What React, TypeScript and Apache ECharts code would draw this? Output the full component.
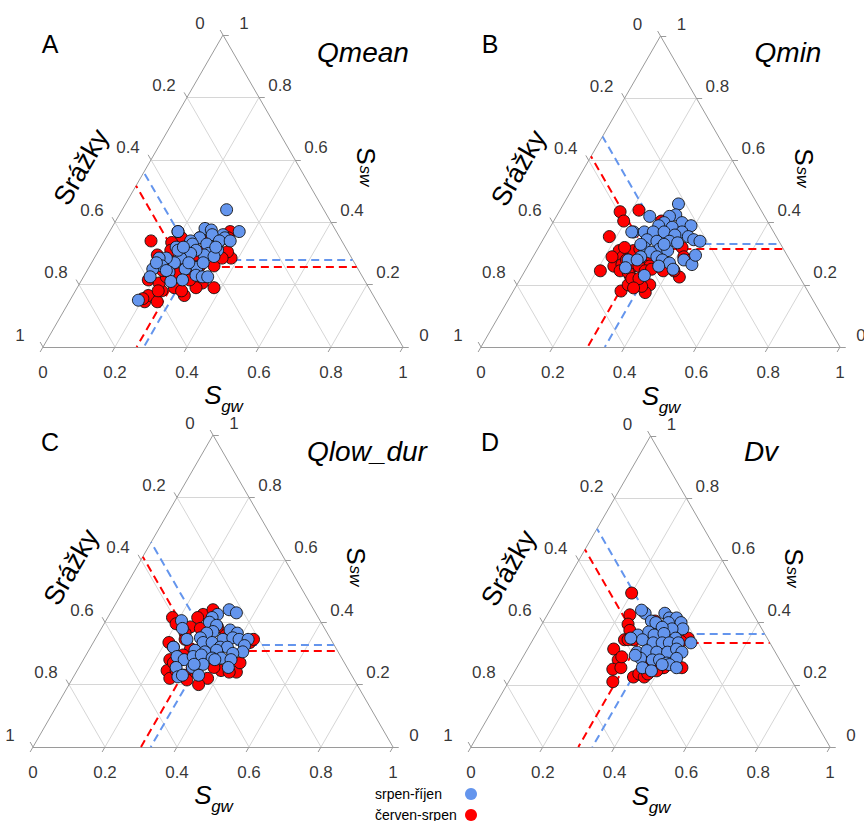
import React, { useEffect, useRef } from "react";
import * as echarts from "echarts";

const FONT = "'Liberation Sans', Arial, Helvetica, sans-serif";
const SQ = Math.sqrt(3) / 2;

// Ternary axes: tick values and labels (same for all three axes)
const TICK_VALUES = [0, 0.2, 0.4, 0.6, 0.8, 1];
const TICK_LABELS = ["0", "0.2", "0.4", "0.6", "0.8", "1"];
const GRID_VALUES = [0.2, 0.4, 0.6, 0.8];

const PANEL_LETTERS = ["A", "B", "C", "D"];
const PANEL_TITLES = ["Qmean", "Qmin", "Qlow_dur", "Dv"];
const AXIS_LEFT = "Srážky";
const LEGEND_NAMES = ["srpen-říjen", "červen-srpen"];
const BLUE = "#6495ED";
const RED = "#FF0000";

// Points are [Sgw, Ssw]; Srážky = 1 - Sgw - Ssw
const redA = [
  [0.13, 0.34], [0.17, 0.295], [0.185, 0.215], [0.21, 0.145], [0.21, 0.165], [0.245, 0.145],
  [0.24, 0.18], [0.22, 0.205], [0.27, 0.19], [0.31, 0.165], [0.21, 0.35], [0.19, 0.37],
  [0.26, 0.35], [0.38, 0.19], [0.34, 0.205], [0.38, 0.285], [0.36, 0.305], [0.27, 0.255],
  [0.23, 0.225], [0.24, 0.245], [0.31, 0.215], [0.21, 0.255], [0.19, 0.335], [0.29, 0.34],
  [0.32, 0.335], [0.335, 0.37], [0.34, 0.35], [0.23, 0.18], [0.2, 0.155], [0.26, 0.235],
  [0.28, 0.24], [0.33, 0.19], [0.295, 0.18], [0.3, 0.215], [0.305, 0.26], [0.25, 0.28],
  [0.21, 0.28], [0.21, 0.245], [0.295, 0.31], [0.275, 0.295], [0.345, 0.26], [0.2, 0.31],
  [0.24, 0.325], [0.355, 0.285],
];
const blueA = [
  [0.29, 0.44], [0.36, 0.37], [0.19, 0.37], [0.26, 0.38], [0.28, 0.375], [0.32, 0.36],
  [0.33, 0.35], [0.29, 0.36], [0.26, 0.35], [0.24, 0.34], [0.21, 0.32], [0.25, 0.33],
  [0.29, 0.33], [0.32, 0.33], [0.33, 0.31], [0.31, 0.3], [0.3, 0.295], [0.33, 0.29],
  [0.27, 0.31], [0.26, 0.3], [0.24, 0.285], [0.23, 0.27], [0.2, 0.285], [0.18, 0.285],
  [0.2, 0.26], [0.18, 0.25], [0.185, 0.225], [0.19, 0.15], [0.23, 0.24], [0.27, 0.25],
  [0.3, 0.255], [0.31, 0.23], [0.33, 0.225], [0.345, 0.225], [0.25, 0.21], [0.28, 0.215],
  [0.22, 0.31], [0.27, 0.27], [0.32, 0.34], [0.31, 0.27], [0.32, 0.32], [0.23, 0.32],
  [0.22, 0.245], [0.18, 0.27], [0.35, 0.34],
];
const redB = [
  [0.17, 0.435], [0.22, 0.44], [0.195, 0.405], [0.18, 0.355], [0.21, 0.245], [0.23, 0.31],
  [0.25, 0.29], [0.24, 0.26], [0.26, 0.265], [0.29, 0.255], [0.3, 0.23], [0.3, 0.18],
  [0.31, 0.2], [0.33, 0.21], [0.37, 0.2], [0.37, 0.175], [0.35, 0.195], [0.27, 0.31],
  [0.31, 0.29], [0.33, 0.29], [0.38, 0.255], [0.41, 0.25], [0.44, 0.225], [0.4, 0.32],
  [0.42, 0.29], [0.3, 0.405], [0.34, 0.26], [0.31, 0.26], [0.265, 0.28], [0.265, 0.245],
  [0.29, 0.24], [0.31, 0.22], [0.33, 0.22], [0.33, 0.19], [0.335, 0.245], [0.35, 0.25],
  [0.385, 0.245], [0.415, 0.245], [0.285, 0.315], [0.445, 0.28], [0.22, 0.29], [0.24, 0.32],
];
const blueB = [
  [0.32, 0.46], [0.33, 0.425], [0.315, 0.42], [0.26, 0.42], [0.31, 0.4], [0.36, 0.4],
  [0.39, 0.39], [0.3, 0.39], [0.34, 0.385], [0.375, 0.37], [0.24, 0.37], [0.27, 0.37],
  [0.295, 0.37], [0.325, 0.37], [0.36, 0.36], [0.4, 0.355], [0.42, 0.345], [0.44, 0.34],
  [0.29, 0.345], [0.32, 0.34], [0.355, 0.34], [0.38, 0.335], [0.295, 0.32], [0.34, 0.315],
  [0.365, 0.31], [0.32, 0.305], [0.3, 0.29], [0.345, 0.29], [0.365, 0.28], [0.39, 0.27],
  [0.425, 0.28], [0.455, 0.265], [0.27, 0.28], [0.295, 0.28], [0.275, 0.255], [0.34, 0.23],
  [0.365, 0.26], [0.41, 0.25], [0.235, 0.37], [0.45, 0.295], [0.28, 0.33], [0.345, 0.33],
];
const redC = [
  [0.18, 0.415], [0.2, 0.395], [0.26, 0.425], [0.28, 0.44], [0.245, 0.385], [0.24, 0.365],
  [0.21, 0.335], [0.23, 0.32], [0.24, 0.28], [0.25, 0.245], [0.27, 0.22], [0.275, 0.245],
  [0.27, 0.28], [0.32, 0.245], [0.375, 0.22], [0.4, 0.245], [0.445, 0.24], [0.435, 0.335],
  [0.44, 0.345], [0.425, 0.24], [0.355, 0.36], [0.32, 0.385], [0.31, 0.32], [0.28, 0.315],
  [0.27, 0.295], [0.255, 0.27], [0.25, 0.415], [0.36, 0.2], [0.305, 0.23], [0.375, 0.255],
  [0.275, 0.38], [0.25, 0.345], [0.32, 0.215], [0.44, 0.27], [0.36, 0.295],
];
const blueC = [
  [0.325, 0.44], [0.35, 0.43], [0.3, 0.425], [0.29, 0.415], [0.29, 0.4], [0.315, 0.39],
  [0.21, 0.405], [0.225, 0.38], [0.315, 0.37], [0.36, 0.375], [0.385, 0.365], [0.3, 0.365],
  [0.29, 0.35], [0.255, 0.345], [0.355, 0.345], [0.38, 0.35], [0.4, 0.345], [0.425, 0.345],
  [0.425, 0.325], [0.43, 0.305], [0.305, 0.335], [0.33, 0.335], [0.36, 0.32], [0.38, 0.32],
  [0.23, 0.32], [0.295, 0.31], [0.325, 0.305], [0.355, 0.31], [0.405, 0.3], [0.255, 0.29],
  [0.28, 0.28], [0.3, 0.29], [0.32, 0.295], [0.355, 0.285], [0.38, 0.285], [0.41, 0.28],
  [0.34, 0.265], [0.365, 0.28], [0.315, 0.255], [0.27, 0.255], [0.345, 0.23], [0.29, 0.225],
  [0.3, 0.23], [0.415, 0.255], [0.315, 0.265],
];
const redD = [
  [0.2, 0.495], [0.23, 0.425], [0.24, 0.395], [0.255, 0.375], [0.255, 0.345], [0.24, 0.315],
  [0.28, 0.345], [0.27, 0.28], [0.27, 0.25], [0.29, 0.255], [0.29, 0.21], [0.34, 0.225],
  [0.35, 0.235], [0.37, 0.225], [0.32, 0.295], [0.36, 0.27], [0.31, 0.405], [0.43, 0.35],
  [0.415, 0.34], [0.46, 0.255], [0.405, 0.255], [0.37, 0.285], [0.355, 0.255], [0.275, 0.29],
  [0.375, 0.235], [0.41, 0.255], [0.395, 0.245], [0.265, 0.345],
];
const blueD = [
  [0.27, 0.43], [0.3, 0.405], [0.325, 0.43], [0.345, 0.415], [0.365, 0.415], [0.385, 0.4],
  [0.35, 0.4], [0.315, 0.4], [0.4, 0.38], [0.37, 0.38], [0.34, 0.385], [0.285, 0.36],
  [0.31, 0.37], [0.33, 0.36], [0.355, 0.365], [0.395, 0.35], [0.445, 0.335], [0.305, 0.345],
  [0.34, 0.335], [0.365, 0.335], [0.385, 0.335], [0.41, 0.335], [0.31, 0.305], [0.335, 0.31],
  [0.365, 0.305], [0.395, 0.305], [0.415, 0.315], [0.435, 0.305], [0.33, 0.285], [0.365, 0.28],
  [0.385, 0.28], [0.41, 0.27], [0.43, 0.285], [0.35, 0.255], [0.38, 0.245], [0.42, 0.265],
  [0.445, 0.255], [0.4, 0.265], [0.27, 0.35], [0.255, 0.44], [0.31, 0.295],
];

// Mean composition [Sgw, Ssw] of each group per panel (dashed guide lines)
const MEAN_RED = [[0.26, 0.257], [0.297, 0.316], [0.3, 0.31], [0.299, 0.336]];
const MEAN_BLUE = [[0.28, 0.28], [0.345, 0.332], [0.327, 0.329], [0.338, 0.364]];

const RED_SETS = [redA, redB, redC, redD];
const BLUE_SETS = [blueA, blueB, blueC, blueD];

// Layout (pixels)
const GRIDS = [
  { left: 43, top: 35, width: 360, height: 312 },
  { left: 481, top: 36, width: 359, height: 311 },
  { left: 33, top: 435, width: 360, height: 312 },
  { left: 471, top: 436, width: 359, height: 311 },
];
const LETTER_POS = [[50, 44], [490, 44], [50, 442], [490, 442]];
const TITLE_POS = [[363, 52], [788, 52], [367, 451], [761, 451]];

const toXY = (p: number[]) => [p[0] + p[1] / 2, p[1] * SQ];

function seg(a: number[], b: number[]) {
  return { coords: [toXY(a), toXY(b)] };
}

function buildOption() {
  const grid: any[] = [];
  const xAxis: any[] = [];
  const yAxis: any[] = [];
  const series: any[] = [];
  const elements: any[] = [];

  for (let i = 0; i < 4; i++) {
    const g = GRIDS[i];
    grid.push({ ...g, containLabel: false });
    xAxis.push({ gridIndex: i, type: "value", min: 0, max: 1, show: false });
    yAxis.push({ gridIndex: i, type: "value", min: 0, max: SQ, show: false });
    const common = { xAxisIndex: i, yAxisIndex: i, coordinateSystem: "cartesian2d", silent: true, clip: false };

    // grid lines
    const gl: any[] = [];
    GRID_VALUES.forEach((v) => {
      gl.push(seg([0, v], [1 - v, v]));
      gl.push(seg([v, 0], [v, 1 - v]));
      gl.push(seg([1 - v, 0], [0, 1 - v]));
    });
    series.push({
      ...common, type: "lines", z: 1, polyline: false,
      lineStyle: { color: "#d6d6d6", width: 1, opacity: 1 }, data: gl,
    });
    // ticks
    const L = 0.016;
    const tk: any[] = [];
    TICK_VALUES.forEach((v) => {
      const b = toXY([v, 0]);
      tk.push({ coords: [b, [b[0] - 0.5 * L, b[1] - SQ * L]] });
      const l = toXY([0, 1 - v]);
      tk.push({ coords: [l, [l[0] - 0.5 * L, l[1] + SQ * L]] });
      const r = toXY([1 - v, v]);
      tk.push({ coords: [r, [r[0] + L, r[1]]] });
    });
    series.push({
      ...common, type: "lines", z: 2, polyline: false,
      lineStyle: { color: "#9a9a9a", width: 1, opacity: 1 }, data: tk,
    });
    // border
    series.push({
      ...common, type: "lines", z: 2, polyline: false,
      lineStyle: { color: "#9a9a9a", width: 1, opacity: 1 },
      data: [seg([0, 0], [1, 0]), seg([1, 0], [0, 1]), seg([0, 1], [0, 0])],
    });
    // dashed mean guide lines
    [[MEAN_BLUE[i], BLUE], [MEAN_RED[i], RED]].forEach(([m, c]: any) => {
      series.push({
        ...common, type: "lines", z: 3, polyline: false,
        lineStyle: { color: c, width: 2, type: [8, 5], opacity: 1 },
        data: [seg(m, [1 - m[1], m[1]]), seg(m, [m[0], 0]), seg(m, [0, m[0] + m[1]])],
      });
    });
    // points
    series.push({
      ...common, type: "scatter", z: 4, name: LEGEND_NAMES[1], symbolSize: 12,
      itemStyle: { color: RED, borderColor: "#111", borderWidth: 0.9, opacity: 1 },
      data: RED_SETS[i].map(toXY),
    });
    series.push({
      ...common, type: "scatter", z: 5, name: LEGEND_NAMES[0], symbolSize: 12,
      itemStyle: { color: BLUE, borderColor: "#111", borderWidth: 0.9, opacity: 1 },
      data: BLUE_SETS[i].map(toXY),
    });
    // tick labels
    const lab = (pts: number[][], offset: number[]) => ({
      ...common, type: "scatter", z: 6, symbolSize: 1,
      itemStyle: { color: "rgba(0,0,0,0)" },
      label: {
        show: true, position: "inside", offset, formatter: "{b}", color: "#000",
        fontSize: 17, fontFamily: FONT,
      },
      data: pts.map((p, k) => ({ value: p, name: TICK_LABELS[k] })),
    });
    series.push(lab(TICK_VALUES.map((v) => toXY([v, 0])), [0, 25]));
    series.push(lab(TICK_VALUES.map((v) => toXY([0, 1 - v])), [-23, -12]));
    series.push(lab(TICK_VALUES.map((v) => toXY([1 - v, v])), [21, -12]));

    // texts
    const ax = g.left + g.width / 2;
    const ay = g.top;
    elements.push({
      type: "text", x: LETTER_POS[i][0], y: LETTER_POS[i][1],
      style: { text: PANEL_LETTERS[i], font: `25px ${FONT}`, fill: "#000", align: "center", verticalAlign: "middle" },
    });
    elements.push({
      type: "text", x: TITLE_POS[i][0], y: TITLE_POS[i][1],
      style: { text: PANEL_TITLES[i], font: `italic 28px ${FONT}`, fill: "#000", align: "center", verticalAlign: "middle" },
    });
    elements.push({
      type: "text", x: ax - 142, y: ay + 132, rotation: Math.PI / 3,
      style: { text: AXIS_LEFT, font: `27px ${FONT}`, fill: "#000", align: "center", verticalAlign: "middle" },
    });
    elements.push({
      type: "text", x: ax + 143, y: ay + 121, rotation: -Math.PI / 2,
      style: { text: "S", font: `26px ${FONT}`, fill: "#000", align: "center", verticalAlign: "middle" },
    });
    elements.push({
      type: "text", x: ax + 142, y: ay + 141, rotation: -Math.PI / 2,
      style: { text: "sw", font: `italic 17px ${FONT}`, fill: "#000", align: "center", verticalAlign: "middle" },
    });
    elements.push({
      type: "text", x: ax - 10, y: ay + 360,
      style: { text: "S", font: `italic 26px ${FONT}`, fill: "#000", align: "center", verticalAlign: "middle" },
    });
    elements.push({
      type: "text", x: ax + 9, y: ay + 371,
      style: { text: "gw", font: `italic 17px ${FONT}`, fill: "#000", align: "center", verticalAlign: "middle" },
    });
  }

  // legend
  [[LEGEND_NAMES[0], BLUE, 794], [LEGEND_NAMES[1], RED, 815]].forEach(([t, c, y]: any) => {
    elements.push({
      type: "text", x: 375, y,
      style: { text: t, font: `14px ${FONT}`, fill: "#000", align: "left", verticalAlign: "middle" },
    });
    elements.push({ type: "circle", shape: { cx: 471, cy: y, r: 6 }, style: { fill: c } });
  });

  return {
    animation: false,
    backgroundColor: "#fff",
    grid, xAxis, yAxis, series,
    graphic: { elements },
  };
}

export default function App() {
  const ref = useRef<HTMLDivElement>(null);
  useEffect(() => {
    if (!ref.current) return;
    const chart = echarts.init(ref.current, undefined, { renderer: "svg" });
    chart.setOption(buildOption() as any);
    return () => chart.dispose();
  }, []);
  return (
    <div
      ref={ref}
      style={{ position: "absolute", left: 0, top: 0, width: 864, height: 821, background: "#fff" }}
    />
  );
}
